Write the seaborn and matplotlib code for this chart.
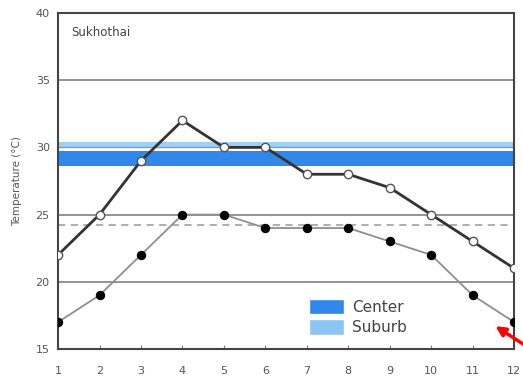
import matplotlib
matplotlib.use("Agg")
import matplotlib.pyplot as plt
import seaborn as sns
import pandas as pd
from matplotlib.patches import Patch

months = list(range(1, 13))
tmax = [22, 25, 29, 32, 30, 30, 28, 28, 27, 25, 23, 21]
tmin = [17, 19, 22, 25, 25, 24, 24, 24, 23, 22, 19, 17]
center_band = (28.62, 29.73)
suburb_band = (29.96, 30.38)
mean_line = 24.2
yticks = [15, 20, 25, 30, 35, 40]

sns.set_style("white")
plt.rcParams['font.family'] = ['DejaVu Sans']

fig = plt.figure(figsize=(5.23, 3.81), dpi=100)
ax = fig.add_axes([0.111, 0.084, 0.872, 0.882])

for y in [20, 25, 30, 35]:
    ax.axhline(y, color='#8a8a8a', lw=1.3, zorder=1)
ax.axhspan(*suburb_band, color='#9fd0f5', lw=0, zorder=1.5)
ax.axhline(30, color='#8a9aa8', lw=1.0, zorder=1.6)
ax.axhspan(*center_band, color='#2f88ea', lw=0, zorder=1.7)
ax.axhline(mean_line, color='#a8a8a8', lw=1.3, ls=(0, (4, 3)), zorder=1.8)

df = pd.DataFrame({'month': months, 'max': tmax, 'min': tmin})
sns.lineplot(data=df, x='month', y='min', ax=ax, color='#8f8f8f', lw=1.3,
             marker='o', markersize=6, markerfacecolor='black',
             markeredgecolor='black', zorder=3)
sns.lineplot(data=df, x='month', y='max', ax=ax, color='#333333', lw=2.0,
             marker='o', markersize=6, markerfacecolor='white',
             markeredgecolor='#555555', markeredgewidth=1.0, zorder=4)

ax.set_xlim(1, 12)
ax.set_ylim(15, 40)
ax.set_xticks(months)
ax.set_yticks(yticks)
ax.tick_params(axis='y', labelsize=8, labelcolor='#555555', length=0, pad=6)
ax.tick_params(axis='x', labelsize=8, labelcolor='#555555', direction='in',
               length=3, color='#777777', bottom=True, pad=12)
ax.set_xlabel('')
ax.set_ylabel('Temperature (\u00b0C)', fontsize=7.5, color='#555555', labelpad=10)
for s in ax.spines.values():
    s.set_color('#444444')
    s.set_linewidth(1.5)

ax.text(0.03, 0.96, 'Sukhothai', transform=ax.transAxes, fontsize=8.5,
        color='#444444', va='top', ha='left')

handles = [Patch(facecolor='#2f88ea', label='Center'),
           Patch(facecolor='#8cc4f2', label='Suburb')]
ax.legend(handles=handles, loc='lower left', bbox_to_anchor=(0.52, 0.0),
          frameon=False, fontsize=11, handlelength=2.3, handleheight=1.2,
          labelspacing=0.3, handletextpad=0.5, labelcolor='#444444')

ax.annotate('', xy=(11.55, 16.7), xytext=(12.25, 15.3), annotation_clip=False,
            arrowprops=dict(arrowstyle='-|>', color='red', lw=2.5,
                            mutation_scale=14, shrinkA=0, shrinkB=0))

fig.savefig('out.png', dpi=100)
